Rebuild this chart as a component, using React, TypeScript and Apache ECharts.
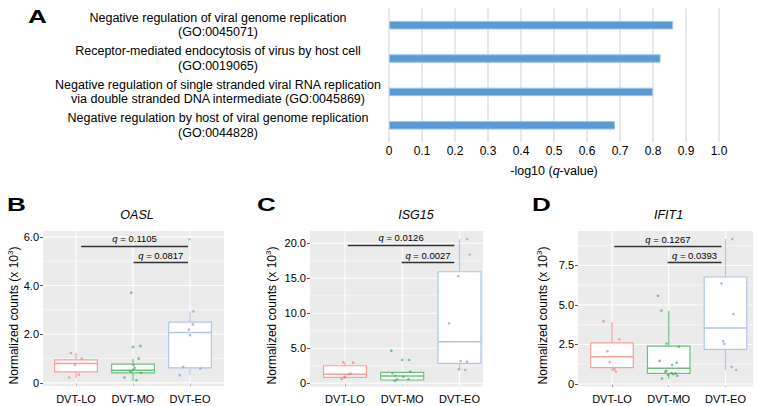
import React, { useEffect, useRef } from 'react';
import * as echarts from 'echarts';

const FONT = '"Liberation Sans", Arial, Helvetica, sans-serif';

// ---------- Panel A data ----------
const goTerms = [
  'Negative regulation of viral genome replication\n(GO:0045071)',
  'Receptor-mediated endocytosis of virus by host cell\n(GO:0019065)',
  'Negative regulation of single stranded viral RNA replication\nvia double stranded DNA intermediate (GO:0045869)',
  'Negative regulation by host of viral genome replication\n(GO:0044828)',
];
const goScores = [0.861, 0.823, 0.8, 0.685];

// ---------- Box panels data ----------
const groups = ['DVT-LO', 'DVT-MO', 'DVT-EO'];
const groupPos = [1, 2, 3];

// box stats: [lower whisker, Q1, median, Q3, upper whisker]
const oaslBoxes = [
  [0.2, 0.45, 0.8, 0.95, 1.23],
  [0.07, 0.41, 0.52, 0.77, 1.0],
  [0.32, 0.62, 2.07, 2.5, 2.94],
];
// points: [jitter offset, value]
const oaslLO = [[-0.09, 1.23], [0.1, 1.0], [-0.02, 0.75], [0.05, 0.34], [-0.12, 0.22]];
const oaslMO = [[-0.03, 3.71], [0.0, 1.48], [0.13, 1.52], [0.1, 1.0], [0.01, 0.73], [-0.06, 0.49], [0.0, 0.55], [0.03, 0.62], [0.14, 0.41], [-0.15, 0.22], [0.06, 0.11], [-0.03, 0.45]];
const oaslEO = [[-0.01, 5.9], [0.06, 2.94], [0.05, 2.4], [-0.02, 2.19], [0.0, 1.96], [-0.12, 0.66], [0.18, 0.59], [-0.18, 0.32]];
const oaslTicks = [0, 2, 4, 6];
const oaslMinor = [1, 3, 5];
const oaslQ = ['0.1105', '0.0817'];
const oaslBracketY = [5.63, 4.95];

const isgBoxes = [
  [0.61, 0.86, 1.29, 2.51, 3.0],
  [0.37, 0.47, 1.04, 1.57, 1.66],
  [1.9, 2.86, 5.94, 15.94, 20.6],
];
const isgLO = [[-0.03, 3.0], [0.14, 2.94], [0.1, 1.43], [0.06, 1.29], [0.0, 0.94], [-0.06, 0.61], [-0.01, 0.8]];
const isgMO = [[-0.19, 4.66], [0.0, 3.33], [0.12, 3.33], [-0.17, 1.43], [0.14, 1.66], [-0.12, 1.09], [0.02, 0.94], [0.11, 0.61], [-0.13, 0.37], [-0.09, 0.57]];
const isgEO = [[0.13, 20.6], [0.18, 18.4], [-0.02, 15.3], [-0.18, 8.57], [0.02, 3.19], [0.13, 3.09], [-0.01, 2.0], [0.1, 1.9]];
const isgTicks = [0, 5, 10, 15, 20];
const isgMinor = [2.5, 7.5, 12.5, 17.5];
const isgQ = ['0.0126', '0.0027'];
const isgBracketY = [19.76, 17.23];

const ifitBoxes = [
  [0.79, 1.04, 1.73, 2.6, 3.92],
  [0.31, 0.67, 1.0, 2.4, 4.63],
  [0.88, 2.19, 3.54, 6.77, 9.17],
];
const ifitLO = [[-0.15, 3.96], [0.13, 2.83], [-0.08, 2.08], [-0.04, 1.39], [0.04, 0.94], [0.07, 0.79]];
const ifitMO = [[-0.19, 5.58], [-0.13, 4.65], [-0.04, 2.56], [0.18, 2.36], [-0.16, 1.46], [0.14, 1.35], [0.06, 1.2], [-0.04, 0.83], [0.05, 0.69], [0.12, 0.67], [0.15, 0.52], [-0.01, 0.58], [-0.12, 0.35], [0.08, 0.62], [-0.06, 0.79]];
const ifitEO = [[0.12, 9.17], [-0.07, 6.36], [0.14, 4.42], [-0.04, 2.71], [-0.02, 2.54], [0.11, 1.08], [0.19, 0.89]];
const ifitTicks = [0, 2.5, 5, 7.5];
const ifitMinor = [1.25, 3.75, 6.25, 8.75];
const ifitQ = ['0.1267', '0.0393'];
const ifitBracketY = [8.69, 7.68];

// ---------- styling / layout ----------
const boxColors = ['#f2a29b', '#6fc07f', '#b2c5ea'];
const pointColors = ['#ec8078', '#3daf52', '#7f9fe2'];

const panels = [
  {
    title: 'OASL', letter: 'B', letterX: 7, titleX: 137, yTitleX: 14,
    boxes: oaslBoxes, pts: [oaslLO, oaslMO, oaslEO], ticks: oaslTicks, minor: oaslMinor,
    q: oaslQ, qy: oaslBracketY, qx: [[1.09, 2.965], [2.01, 2.965]],
    grid: { left: 43, top: 231, width: 181, height: 155 },
    xMin: 0.421, xMax: 3.596, yMin: -0.127, yMax: 6.24,
  },
  {
    title: 'ISG15', letter: 'C', letterX: 257, titleX: 416, yTitleX: 272,
    boxes: isgBoxes, pts: [isgLO, isgMO, isgEO], ticks: isgTicks, minor: isgMinor,
    q: isgQ, qy: isgBracketY, qx: [[1.05, 2.91], [1.99, 2.91]],
    grid: { left: 310, top: 231, width: 173, height: 155.5 },
    xMin: 0.389, xMax: 3.411, yMin: -0.457, yMax: 21.76,
  },
  {
    title: 'IFIT1', letter: 'D', letterX: 532, titleX: 668.5, yTitleX: 543,
    boxes: ifitBoxes, pts: [ifitLO, ifitMO, ifitEO], ticks: ifitTicks, minor: ifitMinor,
    q: ifitQ, qy: ifitBracketY, qx: [[1.04, 2.93], [1.98, 2.93]],
    grid: { left: 578, top: 231, width: 175, height: 155.5 },
    xMin: 0.401, xMax: 3.485, yMin: -0.158, yMax: 9.68,
  },
];

function fmtTick(v: number) {
  return v === 0 ? '0' : v.toFixed(1);
}

function buildOption() {
  const grids: any[] = [{ left: 389, top: 8.5, width: 330, height: 133.5 }];
  const xAxes: any[] = [
    {
      type: 'value', gridIndex: 0, min: 0, max: 1, interval: 0.1,
      axisLine: { show: false }, axisTick: { show: false },
      splitLine: { show: true, lineStyle: { color: '#e0e0e0', width: 1.5 } },
      axisLabel: { formatter: (v: number) => (v === 0 ? '0' : v.toFixed(1)), fontSize: 12, color: '#000', margin: 3, fontFamily: FONT },
      name: '-log10 ({i|q}-value)', nameLocation: 'middle', nameGap: 22,
      nameTextStyle: { fontSize: 12.5, color: '#000', fontFamily: FONT, rich: { i: { fontStyle: 'italic', fontSize: 12.5, color: '#000', fontFamily: FONT } } },
    },
  ];
  const yAxes: any[] = [
    {
      type: 'category', gridIndex: 0, data: goTerms, inverse: true,
      axisLine: { show: false }, axisTick: { show: false }, splitLine: { show: false },
      axisLabel: { interval: 0, align: 'center', margin: 171, fontSize: 12.5, lineHeight: 14.5, color: '#000', fontFamily: FONT },
    },
  ];
  const series: any[] = [
    {
      type: 'bar', xAxisIndex: 0, yAxisIndex: 0, data: goScores, barWidth: 8.5,
      itemStyle: { color: '#5b9bd5', borderColor: '#9ec4ea', borderWidth: 1 },
      silent: true,
    },
  ];
  const graphics: any[] = [
    { type: 'text', x: 28, y: 16.5, scaleX: 1.45, style: { text: 'A', font: `bold 18px ${FONT}`, fill: '#000', align: 'left', verticalAlign: 'middle' } },
  ];

  panels.forEach((p, k) => {
    const gi = k + 1;
    grids.push({ ...p.grid, show: true, backgroundColor: '#ebebeb', borderWidth: 0 });
    xAxes.push({
      type: 'value', gridIndex: gi, min: p.xMin, max: p.xMax,
      splitLine: { show: false }, axisLine: { show: false },
      axisTick: { show: true, customValues: groupPos, length: 3, lineStyle: { color: '#555' } },
      axisLabel: { customValues: groupPos, formatter: (v: number) => groups[Math.round(v) - 1] || '', fontSize: 11, color: '#000', margin: 7, fontFamily: FONT },
    });
    yAxes.push({
      type: 'value', gridIndex: gi, min: p.yMin, max: p.yMax,
      splitLine: { show: false }, axisLine: { show: false },
      axisTick: { show: true, customValues: p.ticks, length: 3, lineStyle: { color: '#555' } },
      axisLabel: { customValues: p.ticks, formatter: fmtTick, fontSize: 11, color: '#000', margin: 4, fontFamily: FONT },
    });

    // gridlines
    const gl: any[] = [];
    p.ticks.forEach((v) => gl.push([2, v, 0, 1.1]));
    p.minor.forEach((v) => gl.push([2, v, 0, 0.55]));
    groupPos.forEach((v) => gl.push([v, (p.yMin + p.yMax) / 2, 1, 1.1]));
    series.push({
      type: 'custom', xAxisIndex: gi, yAxisIndex: gi, z: 1, silent: true, data: gl,
      renderItem: (params: any, api: any) => {
        const cs = params.coordSys;
        const kind = api.value(2);
        const w = api.value(3);
        const pt = api.coord([api.value(0), api.value(1)]);
        if (kind === 0) {
          return { type: 'line', shape: { x1: cs.x, y1: pt[1], x2: cs.x + cs.width, y2: pt[1] }, style: { stroke: '#ffffff', lineWidth: w } };
        }
        return { type: 'line', shape: { x1: pt[0], y1: cs.y, x2: pt[0], y2: cs.y + cs.height }, style: { stroke: '#ffffff', lineWidth: w } };
      },
    });

    // boxes
    series.push({
      type: 'custom', xAxisIndex: gi, yAxisIndex: gi, z: 2, silent: true,
      data: p.boxes.map((b, i) => [groupPos[i], ...b, i]),
      renderItem: (params: any, api: any) => {
        const x = api.value(0);
        const lo = api.value(1), q1 = api.value(2), med = api.value(3), q3 = api.value(4), hi = api.value(5);
        const ci = api.value(6);
        const half = 0.375;
        const tl = api.coord([x - half, q3]);
        const br = api.coord([x + half, q1]);
        const pm = api.coord([x, med]);
        const plo = api.coord([x, lo]);
        const phi = api.coord([x, hi]);
        const c = boxColors[ci];
        return {
          type: 'group',
          children: [
            { type: 'line', shape: { x1: phi[0], y1: phi[1], x2: phi[0], y2: tl[1] }, style: { stroke: c, lineWidth: 1.2 } },
            { type: 'line', shape: { x1: plo[0], y1: plo[1], x2: plo[0], y2: br[1] }, style: { stroke: c, lineWidth: 1.2 } },
            { type: 'rect', shape: { x: tl[0], y: tl[1], width: br[0] - tl[0], height: br[1] - tl[1] }, style: { fill: '#ffffff', stroke: c, lineWidth: 1.2 } },
            { type: 'line', shape: { x1: tl[0], y1: pm[1], x2: br[0], y2: pm[1] }, style: { stroke: c, lineWidth: 1.5 } },
          ],
        };
      },
    });

    // points
    p.pts.forEach((arr, i) => {
      const s: any = {
        type: 'scatter', xAxisIndex: gi, yAxisIndex: gi, z: 3, silent: true,
        symbolSize: 2.6,
        itemStyle: { color: pointColors[i], opacity: 0.7 },
        data: arr.map(([j, v]) => [groupPos[i] + j, v]),
      };
      if (i === 0) {
        s.markLine = {
          silent: true, symbol: 'none', animation: false,
          lineStyle: { color: '#333', width: 1.3, type: 'solid' },
          label: {
            show: true, position: 'insideMiddleTop', distance: 2,
            formatter: (pp: any) => `{i|q} = ${pp.name}`,
            fontSize: 9.5, color: '#000', fontFamily: FONT,
            rich: { i: { fontStyle: 'italic', fontSize: 9.5, color: '#000', fontFamily: FONT } },
          },
          data: p.q.map((qv, m) => [
            { coord: [p.qx[m][0], p.qy[m]], name: qv },
            { coord: [p.qx[m][1], p.qy[m]] },
          ]),
        };
      }
      series.push(s);
    });

    graphics.push({
      type: 'text', x: p.letterX, y: 204.5, scaleX: 1.45,
      style: { text: p.letter, font: `bold 18px ${FONT}`, fill: '#000', align: 'left', verticalAlign: 'middle' },
    });
    graphics.push({
      type: 'text', x: p.titleX, y: 215,
      style: { text: p.title, font: `italic 12.5px ${FONT}`, fill: '#000', align: 'center', verticalAlign: 'middle' },
    });
    graphics.push({
      type: 'text', x: p.yTitleX, y: 315.5, rotation: Math.PI / 2,
      style: {
        text: '{a|Normalized counts (x 10}{s|3}{a|)}',
        align: 'center', verticalAlign: 'middle',
        rich: {
          a: { fontSize: 12, lineHeight: 16, fontFamily: FONT, fill: '#000' },
          s: { fontSize: 8, lineHeight: 8, verticalAlign: 'top', fontFamily: FONT, fill: '#000' },
        },
      },
    });
  });

  return {
    animation: false,
    textStyle: { fontFamily: FONT },
    grid: grids,
    xAxis: xAxes,
    yAxis: yAxes,
    series,
    graphic: graphics,
  };
}

export default function App() {
  const ref = useRef<HTMLDivElement>(null);
  useEffect(() => {
    if (!ref.current) return;
    const chart = echarts.init(ref.current, undefined, { renderer: 'svg' });
    chart.setOption(buildOption() as any);
    return () => chart.dispose();
  }, []);
  return (
    <div
      ref={ref}
      style={{ position: 'fixed', left: 0, top: 0, width: 764, height: 406, background: '#ffffff' }}
    />
  );
}
